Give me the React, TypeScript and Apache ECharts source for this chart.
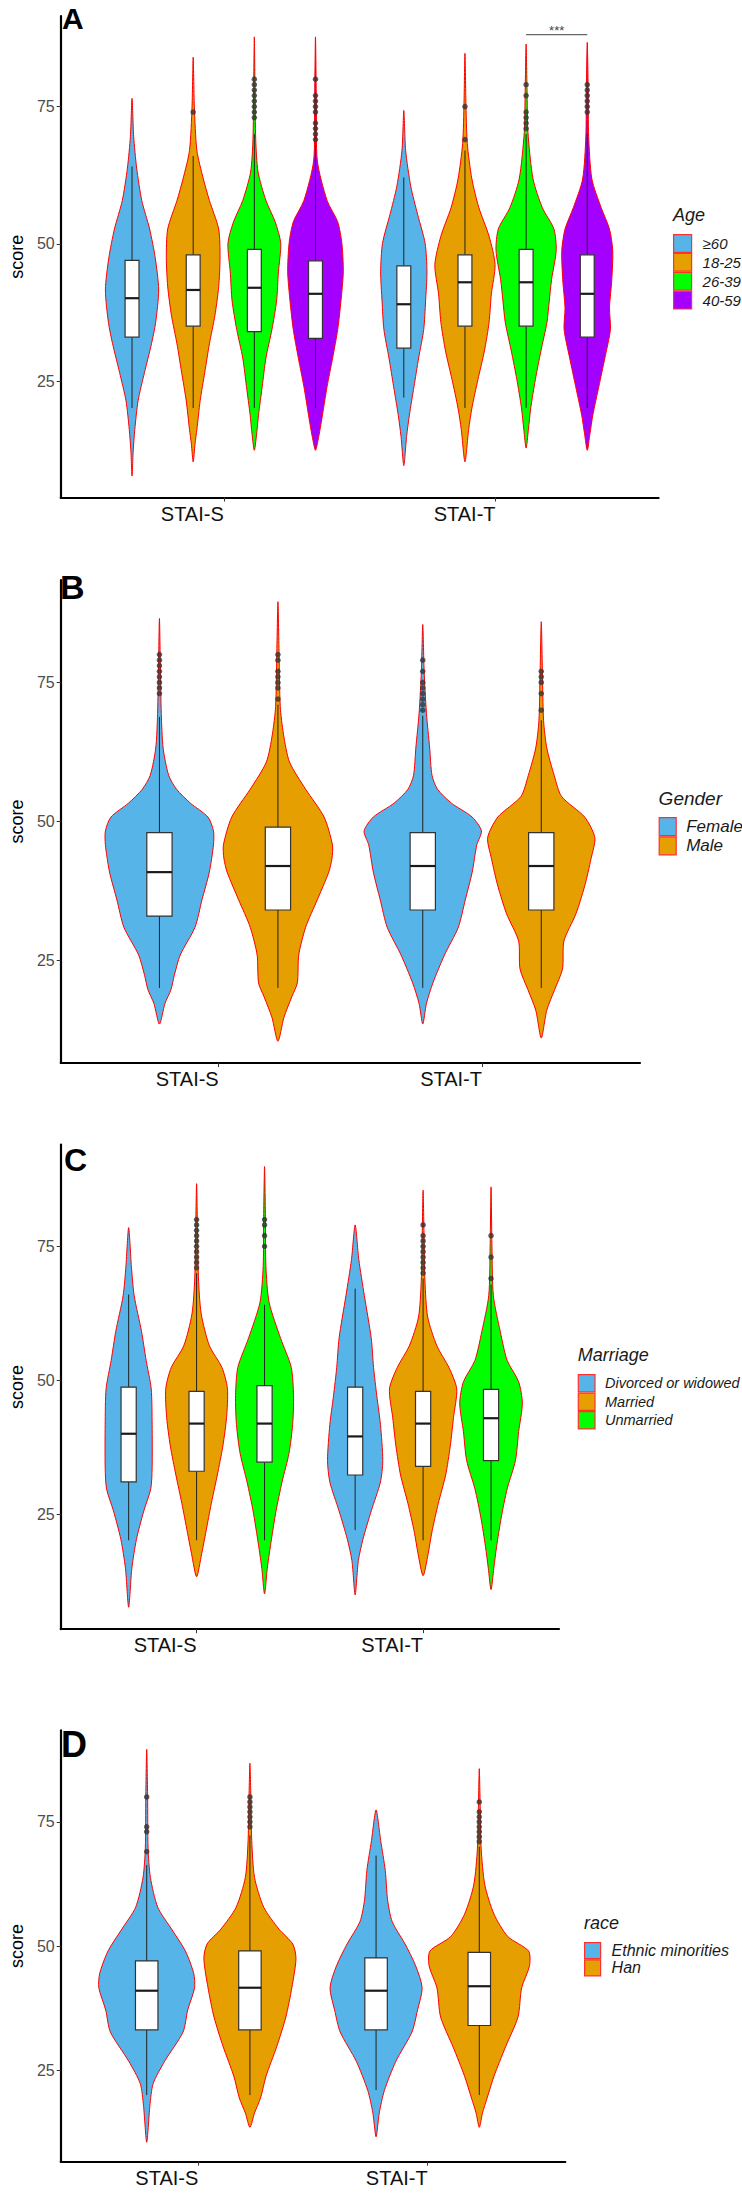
import React, { useEffect, useRef } from "react";
import * as echarts from "echarts";

// ---------- shared ----------
const categories = ["STAI-S", "STAI-T"];
const yTicks = [25, 50, 75];

// ---------- Panel A: Age ----------
const ageGroups = ["≥60", "18-25", "26-39", "40-59"];
const ageColors = ["#56B4E9", "#E69F00", "#00FF00", "#A300FF"];
// violin outlines: [score, relative density] from low to high score
const ageProfiles = [
  [
    [[7.7,0],[12.3,2.5],[16.2,6],[21.4,13],[26.6,27],[31.8,42],[35.7,51],[41.6,57.5],[47.5,50],[52.7,38],[57.9,21],[63.8,10],[69.6,3.5],[76.5,0]],
    [[10.3,0],[13.6,4],[16.2,8],[21.4,15],[26.6,25],[31.8,35],[37.0,47],[42.2,55],[47.5,58],[52.7,55],[57.9,35],[61.8,22],[67,8],[75,2.5],[84.0,0]],
    [[12.4,0],[16.2,6],[18.8,9],[24.0,17],[29.2,25],[34.4,38],[39.6,48],[44.9,52],[50.1,57],[54.0,45],[57.9,25],[63.1,8],[69,3],[78,1.5],[87.7,0]],
    [[12.4,0],[14.9,7],[18.8,15],[24.0,25],[29.2,37],[34.4,48],[39.6,55],[44.9,60],[50.1,57],[54.0,48],[57.9,25],[65.1,4],[75,2],[87.7,0]],
  ],
  [
    [[9.6,0],[14.9,6],[18.8,12],[24.0,22],[29.2,32],[34.4,43],[39.6,47],[44.9,50],[50.1,46],[55.3,30],[60.5,15],[67,4],[74.3,0]],
    [[10.3,0],[16.2,8],[20.1,15],[25.3,28],[30.5,42],[35.7,52],[40.9,57],[46.2,65],[51.4,52],[56.6,30],[61.8,15],[68.3,5],[76,2],[84.7,0]],
    [[12.8,0],[16.2,5],[20.1,10],[25.3,20],[30.5,32],[35.7,45],[39.6,50],[43.5,55],[48.8,65],[52.7,60],[56.6,35],[61.8,15],[70.3,4],[78,2],[86.4,0]],
    [[12.4,0],[15.5,6],[18.8,12],[24.0,25],[29.2,38],[34.4,50],[38.3,48],[43.5,53],[48.8,55],[52.7,48],[56.6,30],[61.8,10],[69.6,3],[78,2],[86.7,0]],
  ],
];
// [lower whisker, Q1, median, Q3, upper whisker]
const ageBoxes = [
  [[20.1,33.0,40.1,47.0,64.1],[20.1,35.0,41.6,48.0,66.0],[20.1,34.0,42.0,49.0,70.0],[20.1,32.8,40.9,46.9,68.0]],
  [[22.0,31.0,39.0,46.0,62.1],[20.1,35.0,43.0,48.0,67.0],[20.1,35.0,43.0,49.0,70.0],[20.1,33.0,40.9,48.0,70.0]],
];
const ageOutliers = [
  [[],[74],[73,74,75,76,77,78,79,80],[69,70,71,72,74,75,76,77,80]],
  [[],[69,75],[71,72,73,74,77,79],[74,75,76,77,78,79]],
];
// [category index, group a, group b, bracket score]
const ageSignif = [[1, 2, 3, 88.1]];
const ageSignifLabels = ["***"];

// ---------- Panel B: Gender ----------
const genderGroups = ["Female", "Male"];
const genderColors = ["#56B4E9", "#E69F00"];
const genderProfiles = [
  [
    [[13.6,0],[17.3,12],[19.8,25],[22.3,32],[26.0,45],[31.0,77],[35.9,92],[40.9,108],[45.8,117],[48.3,117],[50.8,105],[53.3,67],[55.8,37],[58.3,20],[63.2,8],[69.4,4],[78,2],[86.5,0]],
    [[10.5,0],[14.8,13],[18.5,30],[21.0,42],[26.0,45],[31.0,60],[35.9,85],[40.9,110],[43.4,117],[45.8,118],[50.8,100],[55.8,60],[60.7,25],[65.7,12],[70.7,5],[80,2.5],[89.5,0]],
  ],
  [
    [[13.6,0],[17.3,8],[21.0,22],[26.0,47],[31.0,77],[35.9,92],[40.9,107],[45.8,117],[48.3,127],[50.8,107],[53.3,62],[55.8,32],[58.3,20],[63.2,15],[69.4,8],[77,3],[85.4,0]],
    [[11.1,0],[16.1,12],[19.8,29],[23.5,46],[28.5,49],[33.4,75],[38.4,94],[43.4,108],[47.1,116],[50.8,94],[54.5,44],[58.3,28],[63.2,12],[68.2,5],[77,2.5],[85.9,0]],
  ],
];
const genderBoxes = [
  [[20.1,33.0,40.9,48.0,68.8],[20.1,34.1,42.0,49.0,71.0]],
  [[20.1,34.1,42.0,48.0,69.0],[20.1,34.1,42.0,48.0,68.2]],
];
const genderOutliers = [
  [[73,74,75,76,77,78,79,80],[72,74,75,76,77,79,80]],
  [[70,71,72,73,74,75,77,79],[70,73,75,76,77]],
];

// ---------- Panel C: Marriage ----------
const marriageGroups = ["Divorced or widowed", "Married", "Unmarried"];
const marriageColors = ["#56B4E9", "#E69F00", "#00FF00"];
const marriageProfiles = [
  [
    [[7.6,0],[14.9,7],[20.3,17],[25.6,33],[29.7,48],[33.7,51],[41.7,51],[48.4,49],[53.7,38],[59.1,28],[65.8,12],[71.2,6],[78.5,0]],
    [[13.3,0],[17.6,11],[21.6,20],[27.0,32],[32.3,45],[37.7,57],[43.0,65],[48.4,67],[52.4,55],[56.4,28],[62.4,10],[69.1,4],[78,2],[86.7,0]],
    [[10.1,0],[14.9,6],[20.3,15],[25.6,25],[31.0,38],[36.3,53],[41.7,61],[47.1,63],[52.4,58],[57.8,35],[64.5,10],[71.2,3],[80,2],[89.9,0]],
  ],
  [
    [[9.9,0],[16.3,7],[20.3,17],[25.6,35],[31.0,55],[35.0,60],[41.7,55],[47.1,47],[52.4,40],[57.8,35],[65.8,20],[72.5,8],[79.0,0]],
    [[13.5,0],[17.6,11],[21.6,19],[27.0,33],[32.3,49],[37.7,59],[43.0,66],[48.4,73],[52.4,56],[56.4,30],[61.8,10],[68.5,4],[77,2],[85.5,0]],
    [[10.9,0],[14.9,6],[18.9,12],[24.3,22],[29.7,35],[35.0,53],[40.4,60],[45.7,68],[49.7,60],[53.7,35],[59.1,20],[65.8,5],[75,2],[86.1,0]],
  ],
];
const marriageBoxes = [
  [[20.1,31.0,40.0,48.7,66.0],[20.1,33.0,41.9,47.9,70.0],[20.1,34.7,41.9,49.0,64.1]],
  [[22.0,32.3,39.5,48.7,67.1],[20.1,33.9,41.9,47.9,69.0],[20.1,35.0,42.9,48.3,67.9]],
];
const marriageOutliers = [
  [[],[71,72,73,74,75,76,77,78,79,80],[75,77,79,80]],
  [[],[70,71,72,73,74,75,76,77,79],[69,73,77]],
];

// ---------- Panel D: race ----------
const raceGroups = ["Ethnic minorities", "Han"];
const raceColors = ["#56B4E9", "#E69F00"];
const raceProfiles = [
  [
    [[10.5,0],[17.9,7],[22.3,14],[26.8,39],[32.7,79],[37.1,89],[41.6,104],[44.5,102],[49.0,84],[53.4,54],[57.8,24],[63.8,8],[69.7,3],[80,2],[89.6,0]],
    [[13.5,0],[16.4,10],[19.4,23],[23.8,35],[29.7,58],[35.7,78],[41.6,91],[47.5,100],[50.4,93],[53.4,63],[57.8,30],[63.8,10],[71.2,4],[80,2],[86.8,0]],
  ],
  [
    [[11.6,0],[16.4,7],[20.9,18],[26.8,43],[32.7,78],[37.1,90],[41.6,100],[46.0,86],[50.4,63],[54.9,35],[59.3,25],[65.2,20],[71.2,10],[77.4,0]],
    [[13.5,0],[16.4,7],[19.4,17],[23.8,32],[29.7,57],[35.7,84],[41.6,92],[46.0,109],[49.0,107],[51.9,62],[56.4,32],[62.3,12],[69.7,4],[78,2],[85.7,0]],
  ],
];
const raceBoxes = [
  [[20.0,33.1,41.0,47.0,66.3],[20.0,33.1,41.6,49.0,72.3]],
  [[21.0,33.1,41.0,47.6,68.2],[20.0,34.0,41.9,48.7,70.0]],
];
const raceOutliers = [
  [[69,73,74,80],[74,75,76,77,78,79,80]],
  [[],[71,72,73,74,75,76,77,79]],
];

// ---------- layout / style ----------
const FONT = "'Liberation Sans', Arial, Helvetica, sans-serif";
const DODGE = 0.9;

const panels = [
  {
    letter: "A", title: "Age", groups: ageGroups, colors: ageColors,
    profiles: ageProfiles, boxes: ageBoxes, outliers: ageOutliers,
    grid: { left: 45, top: 16, width: 613.6, height: 481.5 },
    yMin: 3.8, yMax: 91.5, densityScale: 1 / 586.7, boxHalf: 0.0256,
    letterPos: { left: 62, top: 3, size: 30 },
    titlePos: { left: 673, top: 206, size: 18 },
    legendPos: { left: 673, top: 234, w: 18, h: 17.7, size: 15, gap: 6 },
  },
  {
    letter: "B", title: "Gender", groups: genderGroups, colors: genderColors,
    profiles: genderProfiles, boxes: genderBoxes, outliers: genderOutliers,
    grid: { left: 45, top: 580, width: 595, height: 483 },
    yMin: 6.6, yMax: 93.4, densityScale: 1 / 570, boxHalf: 0.048,
    letterPos: { left: 60, top: 570, size: 34 },
    titlePos: { left: 658.6, top: 789, size: 19 },
    legendPos: { left: 658.6, top: 817, w: 17, h: 18, size: 17, gap: 5 },
  },
  {
    letter: "C", title: "Marriage", groups: marriageGroups, colors: marriageColors,
    profiles: marriageProfiles, boxes: marriageBoxes, outliers: marriageOutliers,
    grid: { left: 45, top: 1144.6, width: 514, height: 484.6 },
    yMin: 3.5, yMax: 94, densityScale: 1 / 492, boxHalf: 0.0335,
    letterPos: { left: 64, top: 1144, size: 32 },
    titlePos: { left: 577.7, top: 1346, size: 18 },
    legendPos: { left: 577.7, top: 1374, w: 16.7, h: 17.3, size: 14.5, gap: 5 },
  },
  {
    letter: "D", title: "race", groups: raceGroups, colors: raceColors,
    profiles: raceProfiles, boxes: raceBoxes, outliers: raceOutliers,
    grid: { left: 44.3, top: 1730.4, width: 521, height: 431.2 },
    yMin: 6.6, yMax: 93.4, densityScale: 1 / 498, boxHalf: 0.049,
    letterPos: { left: 61, top: 1726, size: 36 },
    titlePos: { left: 584, top: 1914, size: 18 },
    legendPos: { left: 584, top: 1942, w: 16, h: 16, size: 16, gap: 6 },
  },
];

function dodge(gi: number, n: number) {
  const slot = DODGE / n;
  return -DODGE / 2 + slot * (gi + 0.5);
}

function buildOption() {
  const grid: any[] = [];
  const xAxis: any[] = [];
  const yAxis: any[] = [];
  const series: any[] = [];
  const legend: any[] = [];
  const title: any[] = [];

  panels.forEach((p, pi) => {
    const n = p.groups.length;
    grid.push({ ...p.grid });
    xAxis.push({
      type: "value", gridIndex: pi, min: 0.4, max: 2.6,
      axisLine: { show: true, onZero: false, lineStyle: { color: "#000", width: 2.2 } },
      axisTick: { show: true, customValues: [1, 2], length: 4, lineStyle: { color: "#333", width: 1 } },
      axisLabel: {
        show: true, customValues: [1, 2],
        formatter: (v: number) => categories[Math.round(v) - 1] ?? "",
        align: "right", fontSize: 20, color: "#111", margin: 6, fontFamily: FONT,
      },
      splitLine: { show: false },
    });
    yAxis.push({
      type: "value", gridIndex: pi, min: p.yMin, max: p.yMax,
      axisLine: { show: true, onZero: false, lineStyle: { color: "#000", width: 2.2 } },
      axisTick: { show: true, customValues: yTicks, length: 4, lineStyle: { color: "#333", width: 1 } },
      axisLabel: { show: true, customValues: yTicks, fontSize: 16, color: "#4D4D4D", margin: 6, fontFamily: FONT },
      splitLine: { show: false },
      name: "score", nameLocation: "middle", nameGap: 33,
      nameTextStyle: { fontSize: 18, color: "#000", fontFamily: FONT },
    });

    p.groups.forEach((g, gi) => {
      const color = p.colors[gi];
      series.push({
        type: "custom", name: g, xAxisIndex: pi, yAxisIndex: pi, z: 2,
        itemStyle: { color },
        data: categories.map((_, c) => [c + 1 + dodge(gi, n), p.boxes[c][gi][2]]),
        renderItem: (params: any, api: any) => {
          const c = params.dataIndex;
          const cx = c + 1 + dodge(gi, n);
          const prof = p.profiles[c][gi];
          const sc = p.densityScale;
          const pts: number[][] = [];
          for (const [s, d] of prof) pts.push(api.coord([cx + d * sc, s]));
          for (let k = prof.length - 2; k >= 1; k--) {
            const [s, d] = prof[k];
            pts.push(api.coord([cx - d * sc, s]));
          }
          const [lo, q1, med, q3, hi] = p.boxes[c][gi];
          const bw = p.boxHalf;
          const a = api.coord([cx - bw, q3]);
          const b = api.coord([cx + bw, q1]);
          const top = api.coord([cx, hi]);
          const bot = api.coord([cx, lo]);
          const m1 = api.coord([cx - bw, med]);
          const m2 = api.coord([cx + bw, med]);
          return {
            type: "group",
            children: [
              { type: "polygon", shape: { points: pts, smooth: 0.25 }, style: { fill: color, stroke: "#FF0000", lineWidth: 1 } },
              { type: "line", shape: { x1: top[0], y1: top[1], x2: top[0], y2: a[1] }, style: { stroke: "#222", lineWidth: 1 } },
              { type: "line", shape: { x1: bot[0], y1: b[1], x2: bot[0], y2: bot[1] }, style: { stroke: "#222", lineWidth: 1 } },
              { type: "rect", shape: { x: a[0], y: a[1], width: b[0] - a[0], height: b[1] - a[1] }, style: { fill: "#FFFFFF", stroke: "#333", lineWidth: 1.2 } },
              { type: "line", shape: { x1: m1[0], y1: m1[1], x2: m2[0], y2: m2[1] }, style: { stroke: "#1A1A1A", lineWidth: 2.2 } },
            ],
          };
        },
      });
    });

    const outPts: number[][] = [];
    p.outliers.forEach((row, c) =>
      row.forEach((vals, gi) => vals.forEach((v) => outPts.push([c + 1 + dodge(gi, n), v])))
    );
    series.push({
      type: "scatter", xAxisIndex: pi, yAxisIndex: pi, z: 5, silent: true,
      symbol: "circle", symbolSize: 5.5, itemStyle: { color: "#333" }, data: outPts,
    });

    if (pi === 0) {
      series.push({
        type: "custom", xAxisIndex: 0, yAxisIndex: 0, z: 6, silent: true,
        data: ageSignif.map(([c, g1, g2, y]) => [c + 1 + dodge(g1, n), y, c + 1 + dodge(g2, n)]),
        renderItem: (params: any, api: any) => {
          const p1 = api.coord([api.value(0), api.value(1)]);
          const p2 = api.coord([api.value(2), api.value(1)]);
          return {
            type: "group",
            children: [
              { type: "line", shape: { x1: p1[0], y1: p1[1], x2: p2[0], y2: p2[1] }, style: { stroke: "#666", lineWidth: 1.3 } },
              {
                type: "text", x: (p1[0] + p2[0]) / 2, y: p1[1] - 4,
                style: { text: ageSignifLabels[params.dataIndex], fill: "#444", fontSize: 13, fontFamily: FONT, align: "center", verticalAlign: "middle" },
              },
            ],
          };
        },
      });
    }

    legend.push({
      left: p.legendPos.left, top: p.legendPos.top, orient: "vertical",
      itemWidth: p.legendPos.w, itemHeight: p.legendPos.h, itemGap: 0, padding: 0,
      icon: "rect", selectedMode: false,
      data: p.groups.map((g, gi) => ({
        name: g,
        itemStyle: { color: p.colors[gi], borderColor: "#FF3030", borderWidth: 1.2 },
      })),
      textStyle: {
        fontSize: p.legendPos.size, fontStyle: "italic", color: "#1A1A1A", fontFamily: FONT,
        padding: [0, 0, 0, p.legendPos.gap],
      },
    });

    title.push({
      text: p.letter, left: p.letterPos.left, top: p.letterPos.top, padding: 0,
      textStyle: { fontSize: p.letterPos.size, fontWeight: "bold", color: "#000", fontFamily: FONT },
    });
    title.push({
      text: p.title, left: p.titlePos.left, top: p.titlePos.top, padding: 0,
      textStyle: { fontSize: p.titlePos.size, fontStyle: "italic", fontWeight: "normal", color: "#1A1A1A", fontFamily: FONT },
    });
  });

  return {
    animation: false,
    backgroundColor: "#FFFFFF",
    textStyle: { fontFamily: FONT },
    title, legend, grid, xAxis, yAxis, series,
  };
}

export default function App() {
  const ref = useRef<HTMLDivElement>(null);
  useEffect(() => {
    if (!ref.current) return;
    const chart = echarts.init(ref.current, null, { renderer: "svg" });
    chart.setOption(buildOption() as any);
    return () => chart.dispose();
  }, []);
  return (
    <div
      ref={ref}
      style={{ position: "absolute", left: 0, top: 0, width: 742, height: 2194, background: "#fff" }}
    />
  );
}
